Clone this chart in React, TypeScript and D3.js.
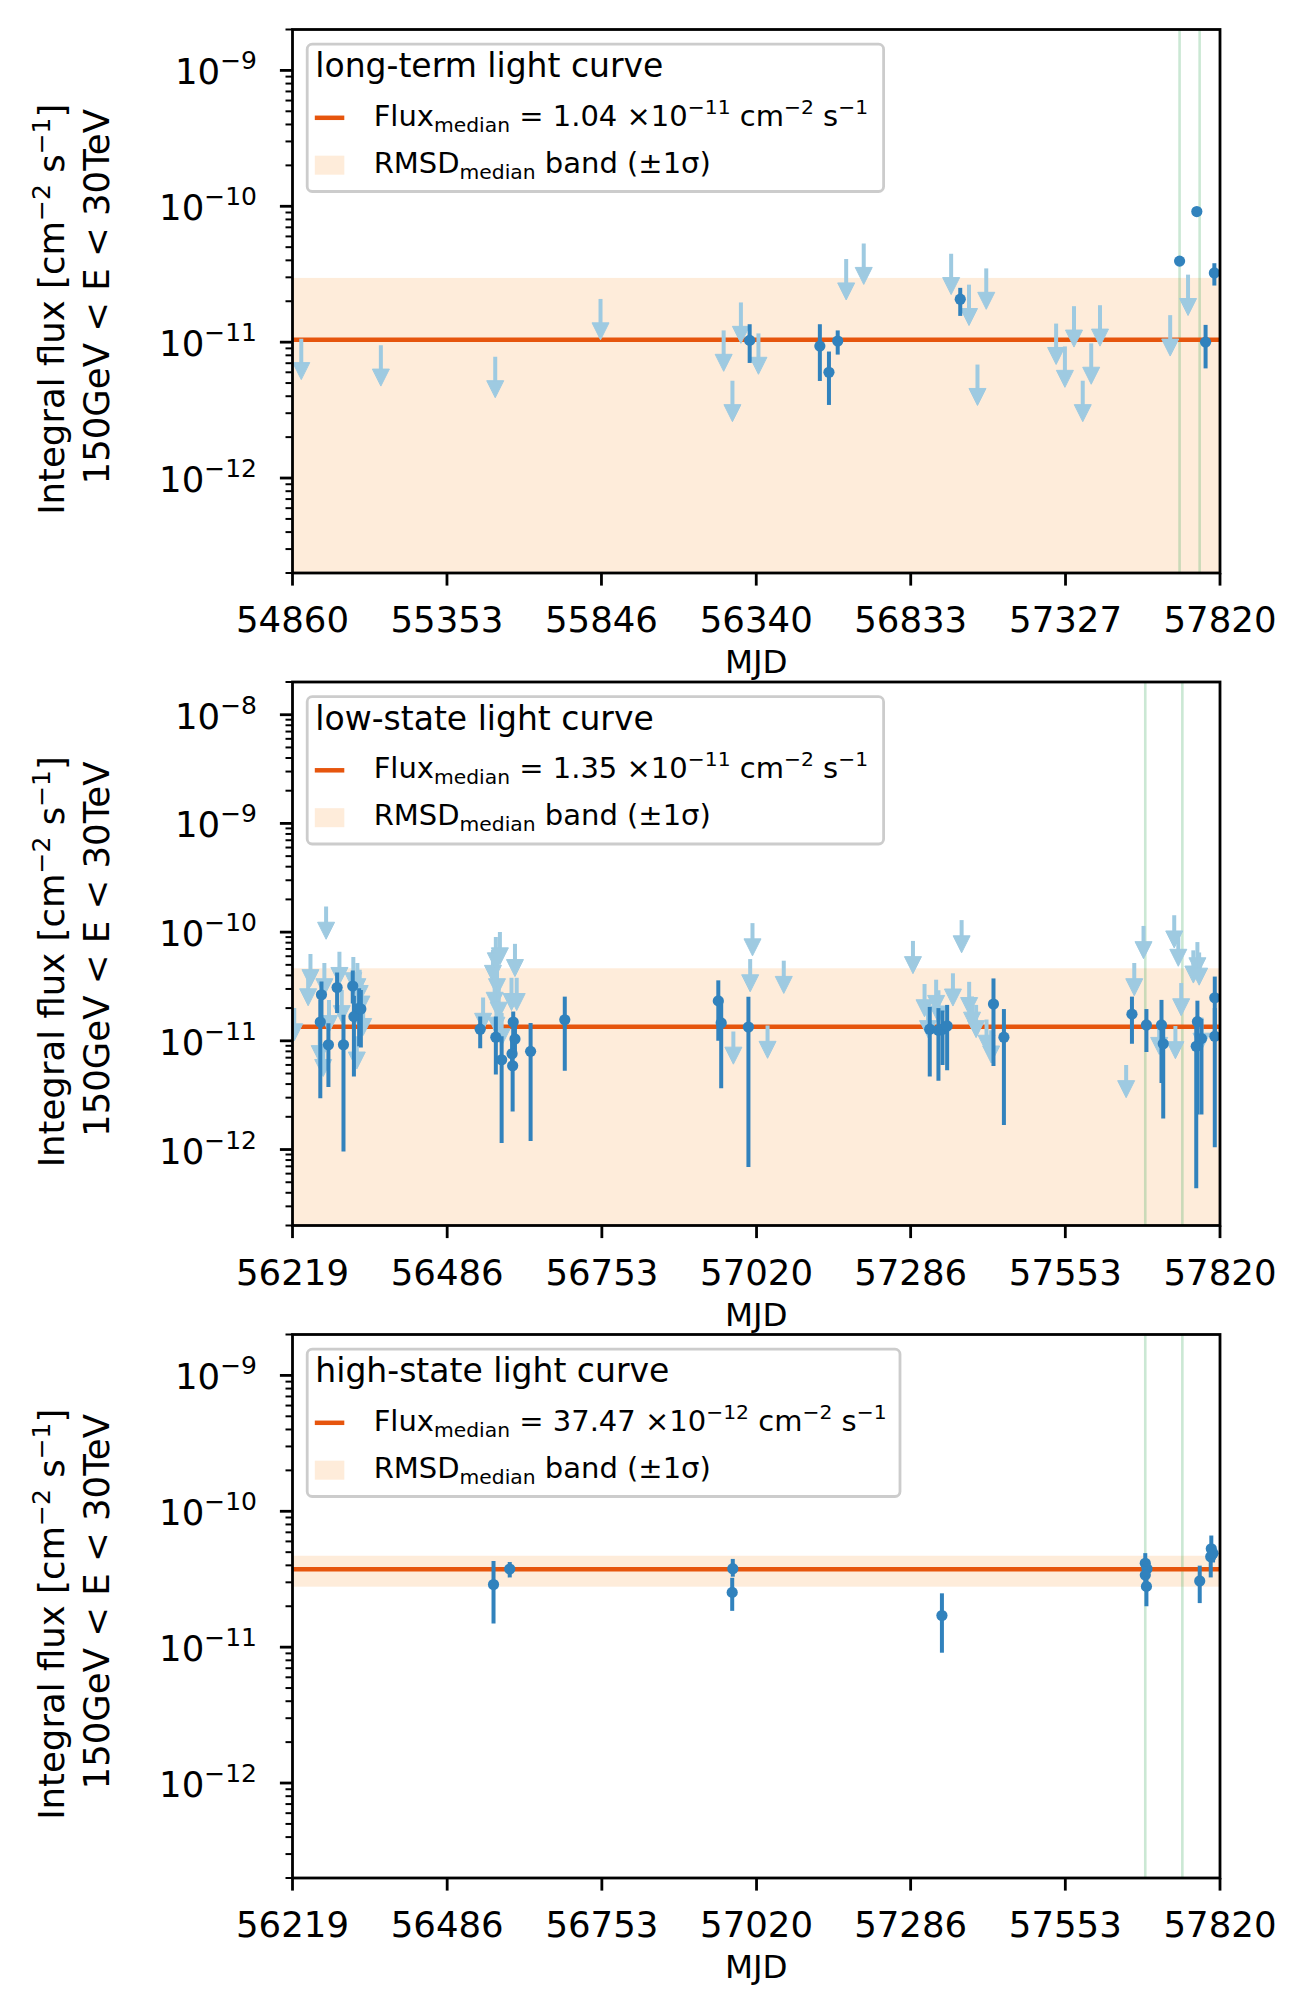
import React from 'react';
import * as d3 from 'd3';

// ---------------- data ----------------
const flareMjd = [57691, 57755];

// long-term light curve
const ltXTicks = [54860, 55353, 55846, 56340, 56833, 57327, 57820];
const ltUlMjd = [54888, 55142, 55507, 55843, 56236, 56264, 56291, 56347, 56627, 56683, 56962, 57019, 57046, 57074, 57297, 57325, 57354, 57382, 57409, 57437, 57661, 57718];
const ltUlFlux = [1.06e-11, 9.5e-12, 7.8e-12, 2.08e-11, 1.22e-11, 5.2e-12, 1.96e-11, 1.16e-11, 4.09e-11, 5.32e-11, 4.48e-11, 2.65e-11, 6.84e-12, 3.49e-11, 1.37e-11, 9.3e-12, 1.84e-11, 5.2e-12, 9.8e-12, 1.87e-11, 1.58e-11, 3.14e-11];
const ltMjd = [56319, 56543, 56572, 56600, 56991, 57691, 57746, 57774, 57802];
const ltFlux = [1.03e-11, 9.35e-12, 6.0e-12, 1.02e-11, 2.07e-11, 3.95e-11, 9.14e-11, 1.0e-11, 3.23e-11];
const ltHi = [1.355e-11, 1.355e-11, 8.53e-12, 1.22e-11, 2.51e-11, 4.05e-11, 9.3e-11, 1.34e-11, 3.81e-11];
const ltLo = [7.03e-12, 5.18e-12, 3.45e-12, 8.1e-12, 1.56e-11, 3.85e-11, 9.0e-11, 6.41e-12, 2.61e-11];

// low-state light curve
const stXTicks = [56219, 56486, 56753, 57020, 57286, 57553, 57820];
const lsUlMjd = [
  56222, 56246, 56250, 56266, 56274, 56277, 56282, 56272, 56300, 56304, 56324, 56330, 56331, 56335, 56338, 56341,
  56548, 56565, 56570, 56572, 56568, 56575, 56571, 56577, 56580, 56597, 56603, 56606,
  56980, 57009, 57013, 57039, 57067,
  57290, 57310, 57316, 57330, 57334, 57359, 57374, 57387, 57392, 57399, 57417, 57425,
  57658, 57672, 57688, 57715, 57741, 57743, 57748, 57753, 57774, 57781, 57784, 57788,
];
const lsUlFlux = [
  2.0e-11, 4.2e-11, 6.3e-11, 1.26e-11, 5.2e-11, 1.72e-10, 2.38e-11, 9.4e-12, 6.6e-11, 2.94e-11, 5.9e-11, 1.1e-11, 5.2e-11, 4.5e-11, 3.6e-11, 2.24e-11,
  2.5e-11, 6.9e-11, 9.0e-11, 5.2e-11, 3.9e-11, 3.16e-11, 2.3e-11, 1.0e-10, 1.8e-11, 3.8e-11, 7.8e-11, 3.8e-11,
  1.22e-11, 5.65e-11, 1.21e-10, 1.38e-11, 5.46e-11,
  8.3e-11, 3.33e-11, 2.14e-11, 3.65e-11, 2.92e-11, 4.18e-11, 1.29e-10, 3.49e-11, 2.56e-11, 2.14e-11, 1.57e-11, 1.25e-11,
  6.0e-12, 5.2e-11, 1.14e-10, 1.5e-11, 1.43e-10, 1.37e-11, 9.7e-11, 3.4e-11, 6.8e-11, 8.1e-11, 6.5e-11, 1.64e-11,
];
const lsMjd = [
  56269, 56267, 56281, 56296, 56307, 56323, 56325, 56334, 56337,
  56543, 56570, 56580, 56600, 56603, 56598, 56599, 56630, 56689,
  56954, 56959, 57006,
  57319, 57334, 57341, 57349, 57429, 57447,
  57668, 57693, 57719, 57722, 57781, 57779, 57788, 57811, 57811,
];
const lsFlux = [
  2.65e-11, 1.49e-11, 9.2e-12, 3.09e-11, 9.2e-12, 3.19e-11, 1.67e-11, 2.0e-11, 1.96e-11,
  1.28e-11, 1.08e-11, 6.7e-12, 1.49e-11, 1.04e-11, 7.6e-12, 5.9e-12, 8.0e-12, 1.56e-11,
  2.33e-11, 1.46e-11, 1.34e-11,
  1.28e-11, 1.25e-11, 1.28e-11, 1.37e-11, 2.18e-11, 1.08e-11,
  1.76e-11, 1.4e-11, 1.4e-11, 9.4e-12, 1.5e-11, 8.9e-12, 1.05e-11, 2.49e-11, 1.1e-11,
];
const lsHi = [
  3.52e-11, 2.4e-11, 1.45e-11, 4.25e-11, 1.74e-11, 4.43e-11, 2.6e-11, 3.05e-11, 2.94e-11,
  1.67e-11, 1.67e-11, 1.1e-11, 1.86e-11, 1.4e-11, 1.0e-11, 8.0e-12, 1.46e-11, 2.55e-11,
  3.6e-11, 2.38e-11, 2.55e-11,
  2.05e-11, 2.0e-11, 1.9e-11, 2.14e-11, 3.75e-11, 1.96e-11,
  2.55e-11, 1.96e-11, 2.38e-11, 1.4e-11, 2.34e-11, 1.4e-11, 1.6e-11, 3.9e-11, 2.0e-11,
];
const lsLo = [
  1.46e-11, 2.97e-12, 3.75e-12, 1.8e-11, 9.6e-13, 2.2e-11, 4.7e-12, 8.9e-12, 8.7e-12,
  8.56e-12, 4.9e-12, 1.15e-12, 1.1e-11, 7.5e-12, 5.5e-12, 2.24e-12, 1.2e-12, 5.3e-12,
  1.0e-11, 3.67e-12, 6.9e-13,
  4.7e-12, 4.3e-12, 6.0e-12, 5.36e-12, 5.87e-12, 1.68e-12,
  9.4e-12, 7.9e-12, 4.1e-12, 1.93e-12, 2.1e-12, 4.4e-13, 2.1e-12, 1.1e-11, 1.05e-12,
];

// high-state light curve
const hsMjd = [56566, 56594, 56979, 56978, 57340, 57691, 57694, 57691, 57693, 57785, 57805, 57804, 57808];
const hsFlux = [2.89e-11, 3.76e-11, 3.78e-11, 2.53e-11, 1.71e-11, 4.14e-11, 3.78e-11, 3.39e-11, 2.8e-11, 3.07e-11, 5.3e-11, 4.63e-11, 4.9e-11];
const hsHi = [4.3e-11, 4.23e-11, 4.46e-11, 3.24e-11, 2.49e-11, 4.92e-11, 4.3e-11, 3.9e-11, 3.3e-11, 3.98e-11, 6.63e-11, 5.2e-11, 5.6e-11];
const hsLo = [1.49e-11, 3.26e-11, 3.3e-11, 1.85e-11, 9.1e-12, 3.6e-11, 3.3e-11, 3.0e-11, 2.0e-11, 2.11e-11, 4.6e-11, 3.26e-11, 4.2e-11];

// ---------------- style / layout ----------------
const W = 1313, H = 2015;
const AX_L = 292.5, AX_R = 1220, AX_H = 543.5;
const FONT = '"DejaVu Sans", Verdana, sans-serif';
const C_PT = '#3182bd', C_UL = '#9ecae1', C_MED = '#e6550d', C_BAND = '#fdd0a2', C_GREEN = '#31a354';
const TICK_FS = 35.5, LEG_FS = 29, TITLE_FS = 33, XLAB_FS = 32.5;

type PanelProps = {
  id: string;
  top: number;
  xDomain: [number, number];
  xTicks: number[];
  yDomain: [number, number];
  ulMjd: number[];
  ulFlux: number[];
  mjd: number[];
  flux: number[];
  hi: number[];
  lo: number[];
  median: number;
  sigma: number;
  title: string;
  medText: string;
  medExp: string;
  legendW: number;
};

function Panel(p: PanelProps) {
  const x = d3.scaleLinear().domain(p.xDomain).range([AX_L, AX_R]);
  const y = d3.scaleLog().domain(p.yDomain).range([p.top + AX_H, p.top]);
  const bottom = p.top + AX_H;
  const e0 = Math.ceil(Math.log10(p.yDomain[0]));
  const e1 = Math.floor(Math.log10(p.yDomain[1]));
  const majors: number[] = d3.range(e0, e1 + 1);
  const minors: number[] = [];
  for (let e = e0 - 1; e <= e1; e++) {
    for (let m = 2; m <= 9; m++) {
      const v = m * Math.pow(10, e);
      if (v >= p.yDomain[0] && v <= p.yDomain[1]) minors.push(v);
    }
  }
  const bandTop = y(Math.min(p.median + p.sigma, p.yDomain[1]));
  const bandBot = y(Math.max(p.median - p.sigma, p.yDomain[0]));
  const cx = (AX_L + AX_R) / 2;
  const cy = p.top + AX_H / 2;
  const T = p.top;
  const HEAD = 17;
  return (
    <g>
      <defs>
        <clipPath id={p.id}>
          <rect x={AX_L} y={p.top} width={AX_R - AX_L} height={AX_H} />
        </clipPath>
      </defs>
      <g clipPath={`url(#${p.id})`}>
        <rect x={AX_L} y={bandTop} width={AX_R - AX_L} height={bandBot - bandTop} fill={C_BAND} fillOpacity={0.4} />
        {flareMjd.map((m, i) => (
          <line key={'f' + i} x1={x(m)} x2={x(m)} y1={p.top} y2={bottom} stroke={C_GREEN} strokeOpacity={0.25} strokeWidth={2.6} />
        ))}
        <line x1={AX_L} x2={AX_R} y1={y(p.median)} y2={y(p.median)} stroke={C_MED} strokeWidth={4.5} />
        {p.ulMjd.map((m, i) => {
          const xx = x(m);
          const y0 = y(p.ulFlux[i]);
          const tip = y(p.ulFlux[i] * 0.5);
          const base = tip - HEAD;
          return (
            <g key={'u' + i}>
              <line x1={xx} x2={xx} y1={y0} y2={base + 2} stroke={C_UL} strokeWidth={4} />
              <path d={`M${xx - 8.5},${base} L${xx + 8.5},${base} L${xx},${tip} Z`} fill={C_UL} stroke={C_UL} strokeWidth={1} strokeLinejoin="round" />
            </g>
          );
        })}
        {p.mjd.map((m, i) => {
          const xx = x(m);
          return (
            <g key={'p' + i}>
              <line x1={xx} x2={xx} y1={y(p.hi[i])} y2={y(p.lo[i])} stroke={C_PT} strokeWidth={4} />
              <circle cx={xx} cy={y(p.flux[i])} r={5.6} fill={C_PT} />
            </g>
          );
        })}
      </g>
      {/* y ticks */}
      {minors.map((v, i) => (
        <line key={'mi' + i} x1={AX_L - 7} x2={AX_L} y1={y(v)} y2={y(v)} stroke="#000" strokeWidth={2} />
      ))}
      {majors.map((e) => (
        <g key={'ma' + e}>
          <line x1={AX_L - 12.6} x2={AX_L} y1={y(Math.pow(10, e))} y2={y(Math.pow(10, e))} stroke="#000" strokeWidth={2.8} />
          <text x={257} y={y(Math.pow(10, e)) + 14} textAnchor="end" fontFamily={FONT} fontSize={TICK_FS} fill="#000">
            <tspan>10</tspan>
            <tspan fontSize={25} dy={-15}>{'\u2212' + Math.abs(e)}</tspan>
          </text>
        </g>
      ))}
      {/* x ticks */}
      {p.xTicks.map((t) => (
        <g key={'xt' + t}>
          <line x1={x(t)} x2={x(t)} y1={bottom} y2={bottom + 12.6} stroke="#000" strokeWidth={2.8} />
          <text x={x(t)} y={bottom + 59} textAnchor="middle" fontFamily={FONT} fontSize={TICK_FS} fill="#000">{t}</text>
        </g>
      ))}
      <rect x={AX_L} y={p.top} width={AX_R - AX_L} height={AX_H} fill="none" stroke="#000" strokeWidth={2.8} />
      {/* axis labels */}
      <text x={cx} y={bottom + 100} textAnchor="middle" fontFamily={FONT} fontSize={XLAB_FS} fill="#000">MJD</text>
      <g transform={`translate(64,${cy + 8}) rotate(-90)`}>
        <text x={0} y={0} textAnchor="middle" fontFamily={FONT} fontSize={TICK_FS} fill="#000" style={{ whiteSpace: 'pre' }}>
          <tspan>{'Integral flux [cm'}</tspan>
          <tspan fontSize={25} dy={-14}>{'\u22122'}</tspan>
          <tspan dy={14}>{' s'}</tspan>
          <tspan fontSize={25} dy={-14}>{'\u22121'}</tspan>
          <tspan dy={14}>{']'}</tspan>
        </text>
      </g>
      <g transform={`translate(109.4,${cy - 4.5}) rotate(-90)`}>
        <text x={0} y={0} textAnchor="middle" fontFamily={FONT} fontSize={TICK_FS} fill="#000">150GeV &lt; E &lt; 30TeV</text>
      </g>
      {/* legend */}
      <rect x={307.2} y={T + 14.7} width={p.legendW} height={147.3} rx={5} ry={5} fill="#fff" fillOpacity={0.8} stroke="#cccccc" strokeWidth={2.8} />
      <text x={315.3} y={T + 47.5} fontFamily={FONT} fontSize={TITLE_FS} fill="#000">{p.title}</text>
      <line x1={314.8} x2={344.3} y1={T + 88.3} y2={T + 88.3} stroke={C_MED} strokeWidth={4.5} />
      <text x={373.7} y={T + 96} fontFamily={FONT} fontSize={LEG_FS} fill="#000" style={{ whiteSpace: 'pre' }}>
        <tspan>Flux</tspan>
        <tspan fontSize={20.3} dy={6}>median</tspan>
        <tspan dy={-6}>{' = ' + p.medText + ' \u00d710'}</tspan>
        <tspan fontSize={20.3} dy={-12}>{p.medExp}</tspan>
        <tspan dy={12}>{' cm'}</tspan>
        <tspan fontSize={20.3} dy={-12}>{'\u22122'}</tspan>
        <tspan dy={12}>{' s'}</tspan>
        <tspan fontSize={20.3} dy={-12}>{'\u22121'}</tspan>
      </text>
      <rect x={314.8} y={T + 126.2} width={29.5} height={19} fill={C_BAND} fillOpacity={0.4} />
      <text x={373.7} y={T + 143} fontFamily={FONT} fontSize={LEG_FS} fill="#000" style={{ whiteSpace: 'pre' }}>
        <tspan>RMSD</tspan>
        <tspan fontSize={20.3} dy={6}>median</tspan>
        <tspan dy={-6}>{' band (\u00b11\u03c3)'}</tspan>
      </text>
    </g>
  );
}

export default function App() {
  return (
    <svg width={W} height={H} viewBox={`0 0 ${W} ${H}`} style={{ position: 'absolute', left: 0, top: 0, background: '#fff' }}>
      <rect x={0} y={0} width={W} height={H} fill="#fff" />
      <Panel id="c1" top={29.5} xDomain={[54860, 57820]} xTicks={ltXTicks} yDomain={[2e-13, 2e-9]}
        ulMjd={ltUlMjd} ulFlux={ltUlFlux} mjd={ltMjd} flux={ltFlux} hi={ltHi} lo={ltLo}
        median={1.04e-11} sigma={1.93e-11} title="long-term light curve" medText="1.04" medExp={'\u221211'} legendW={576.4} />
      <Panel id="c2" top={682} xDomain={[56219, 57820]} xTicks={stXTicks} yDomain={[2e-13, 2e-8]}
        ulMjd={lsUlMjd} ulFlux={lsUlFlux} mjd={lsMjd} flux={lsFlux} hi={lsHi} lo={lsLo}
        median={1.35e-11} sigma={3.3e-11} title="low-state light curve" medText="1.35" medExp={'\u221211'} legendW={576.4} />
      <Panel id="c3" top={1334.5} xDomain={[56219, 57820]} xTicks={stXTicks} yDomain={[2e-13, 2e-9]}
        ulMjd={[]} ulFlux={[]} mjd={hsMjd} flux={hsFlux} hi={hsHi} lo={hsLo}
        median={3.747e-11} sigma={0.96e-11} title="high-state light curve" medText="37.47" medExp={'\u221212'} legendW={592.8} />
    </svg>
  );
}
